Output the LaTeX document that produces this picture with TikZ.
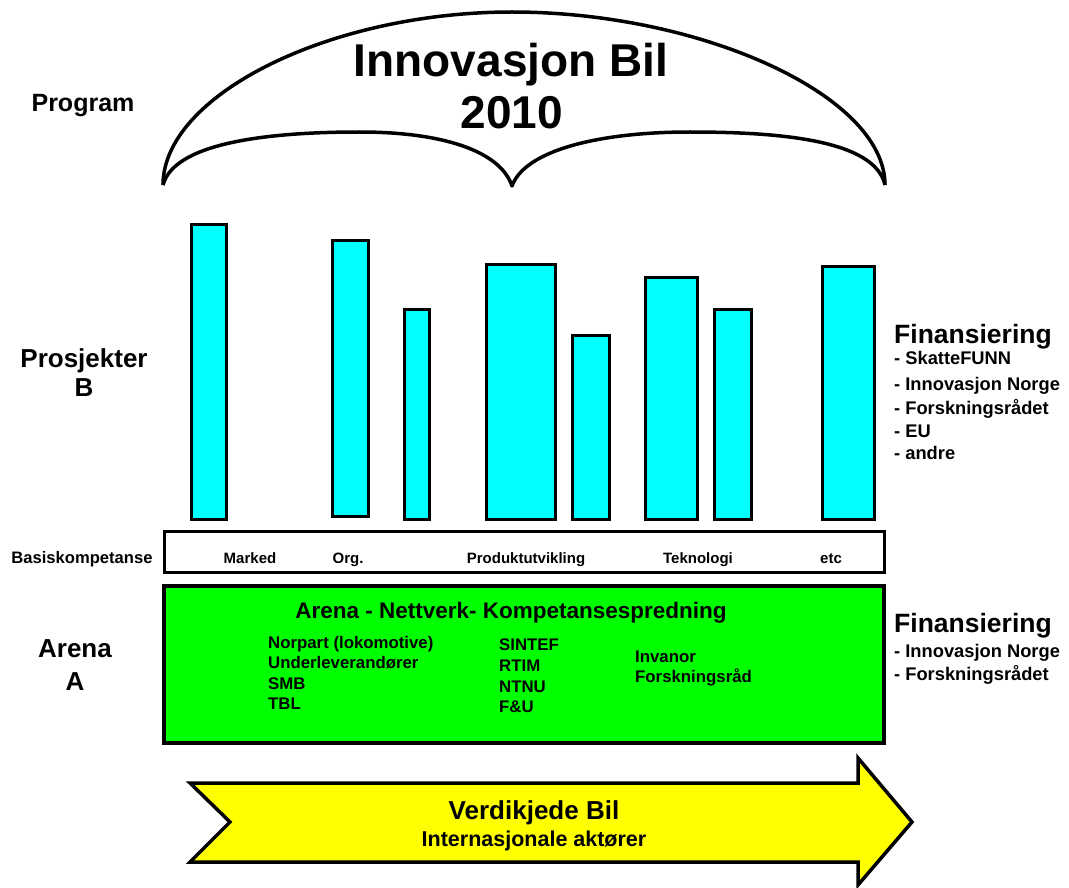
\documentclass[tikz,border=0pt]{standalone}
\usepackage{fontspec}
\setmainfont{Liberation Sans}[BoldFont={* Bold}]
\newfontfamily\boldf{Liberation Sans Bold}
\definecolor{barcyan}{RGB}{0,255,255}
\definecolor{arenagreen}{RGB}{0,255,0}
\definecolor{arrowyellow}{RGB}{255,255,0}
\begin{document}
\begin{tikzpicture}[x=1pt,y=-1pt,
  bar/.style={draw=black,line width=3pt,fill=barcyan,inner sep=0pt},
  txt/.style={inner sep=0pt,anchor=base},
  ltxt/.style={inner sep=0pt,anchor=base west},
  bf/.style={font=\boldf\fontsize{#1}{#1}\selectfont}]
\useasboundingbox (0,0) rectangle (1069,888);
% brace
\coordinate (bl) at (163,185);
\coordinate (bm) at (512,186);
\coordinate (br) at (885,185);
\draw[line width=3.5pt,line join=round] (bl) .. controls (163,95) and (330,12) .. (512,12)
   .. controls (700,12) and (885,95) .. (br);
\draw[line width=3.5pt,line join=round] (bl) .. controls (175,140) and (280,132) .. (360,132)
   .. controls (440,132) and (500,150) .. (bm)
   .. controls (525,150) and (600,132) .. (690,132)
   .. controls (780,132) and (875,140) .. (br);
\node[txt,bf=46] (t1) at (511,77) {Innovasjon Bil};
\node[txt,bf=46] (t2) at (512,129) {2010};
\node[txt,bf=25] (prog) at (83,112) {Program};
% bars
\node[bar,minimum width=35pt,minimum height=295pt] (b1) at (209,372) {};
\node[bar,minimum width=36pt,minimum height=276pt] (b2) at (350.5,378.5) {};
\node[bar,minimum width=25pt,minimum height=210pt] (b3) at (417,414.5) {};
\node[bar,minimum width=69pt,minimum height=255pt] (b4) at (521,392) {};
\node[bar,minimum width=37pt,minimum height=184pt] (b5) at (591,427.5) {};
\node[bar,minimum width=52pt,minimum height=242pt] (b6) at (671.5,398.5) {};
\node[bar,minimum width=37pt,minimum height=210pt] (b7) at (733,414.5) {};
\node[bar,minimum width=52pt,minimum height=253pt] (b8) at (848.5,393) {};
\node[txt,bf=26] (pb1) at (84,367) {Prosjekter};
\node[txt,bf=26] (pb2) at (84,396) {B};
% finansiering 1
\node[ltxt,bf=26.5] (f1) at (894,343) {Finansiering};
\node[ltxt,bf=18.3] (f1a) at (894,364) {- SkatteFUNN};
\node[ltxt,bf=18.3] (f1b) at (894,390) {- Innovasjon Norge};
\node[ltxt,bf=18.3] (f1c) at (894,414) {- Forskningsrådet};
\node[ltxt,bf=18.3] (f1d) at (894,437) {- EU};
\node[ltxt,bf=18.3] (f1e) at (894,459) {- andre};
% basis
\node[draw=black,line width=3pt,fill=white,minimum width=720pt,minimum height=41pt,inner sep=0pt] (basis) at (524,552) {};
\node[txt,bf=16.6] (bk) at (82,563) {Basiskompetanse};
\node[txt,bf=15] (m1) at (250,563) {Marked};
\node[txt,bf=15] (m2) at (348,563) {Org.};
\node[txt,bf=15] (m3) at (526,563) {Produktutvikling};
\node[txt,bf=15] (m4) at (698,563) {Teknologi};
\node[txt,bf=15] (m5) at (831,563) {etc};
% arena
\node[draw=black,line width=3.5pt,fill=arenagreen,minimum width=720pt,minimum height=157pt,inner sep=0pt] (arena) at (524,664.5) {};
\node[txt,bf=22.5] (ah) at (511,618) {Arena - Nettverk- Kompetansespredning};
\node[ltxt,bf=16.8] (c1a) at (268,648) {Norpart (lokomotive)};
\node[ltxt,bf=16.8] (c1b) at (268,668) {Underleverandører};
\node[ltxt,bf=16.8] (c1c) at (268,689) {SMB};
\node[ltxt,bf=16.8] (c1d) at (268,709) {TBL};
\node[ltxt,bf=16.8] (c2a) at (499,650) {SINTEF};
\node[ltxt,bf=16.8] (c2b) at (499,671) {RTIM};
\node[ltxt,bf=16.8] (c2c) at (499,692) {NTNU};
\node[ltxt,bf=16.8] (c2d) at (499,712) {F\&U};
\node[ltxt,bf=16.8] (c3a) at (635,662) {Invanor};
\node[ltxt,bf=16.8] (c3b) at (635,682) {Forskningsråd};
\node[txt,bf=26] (aa1) at (75,657) {Arena};
\node[txt,bf=26] (aa2) at (75,690) {A};
% finansiering 2
\node[ltxt,bf=26.5] (f2) at (894,632) {Finansiering};
\node[ltxt,bf=18.3] (f2a) at (894,657) {- Innovasjon Norge};
\node[ltxt,bf=18.3] (f2b) at (894,680) {- Forskningsrådet};
% arrow
\coordinate (a1) at (190,783);
\coordinate (a2) at (858,783);
\coordinate (a3) at (858,758);
\coordinate (a4) at (912,822);
\coordinate (a5) at (858,885);
\coordinate (a6) at (858,862);
\coordinate (a7) at (190,862);
\coordinate (a8) at (230,822);
\draw[line width=3.5pt,fill=arrowyellow,line join=miter] (a1) -- (a2) -- (a3) -- (a4) -- (a5) -- (a6) -- (a7) -- (a8) -- cycle;
\node[txt,bf=26] (v1) at (534,819) {Verdikjede Bil};
\node[txt,bf=21.5] (v2) at (534,846) {Internasjonale aktører};
\end{tikzpicture}
\end{document}
